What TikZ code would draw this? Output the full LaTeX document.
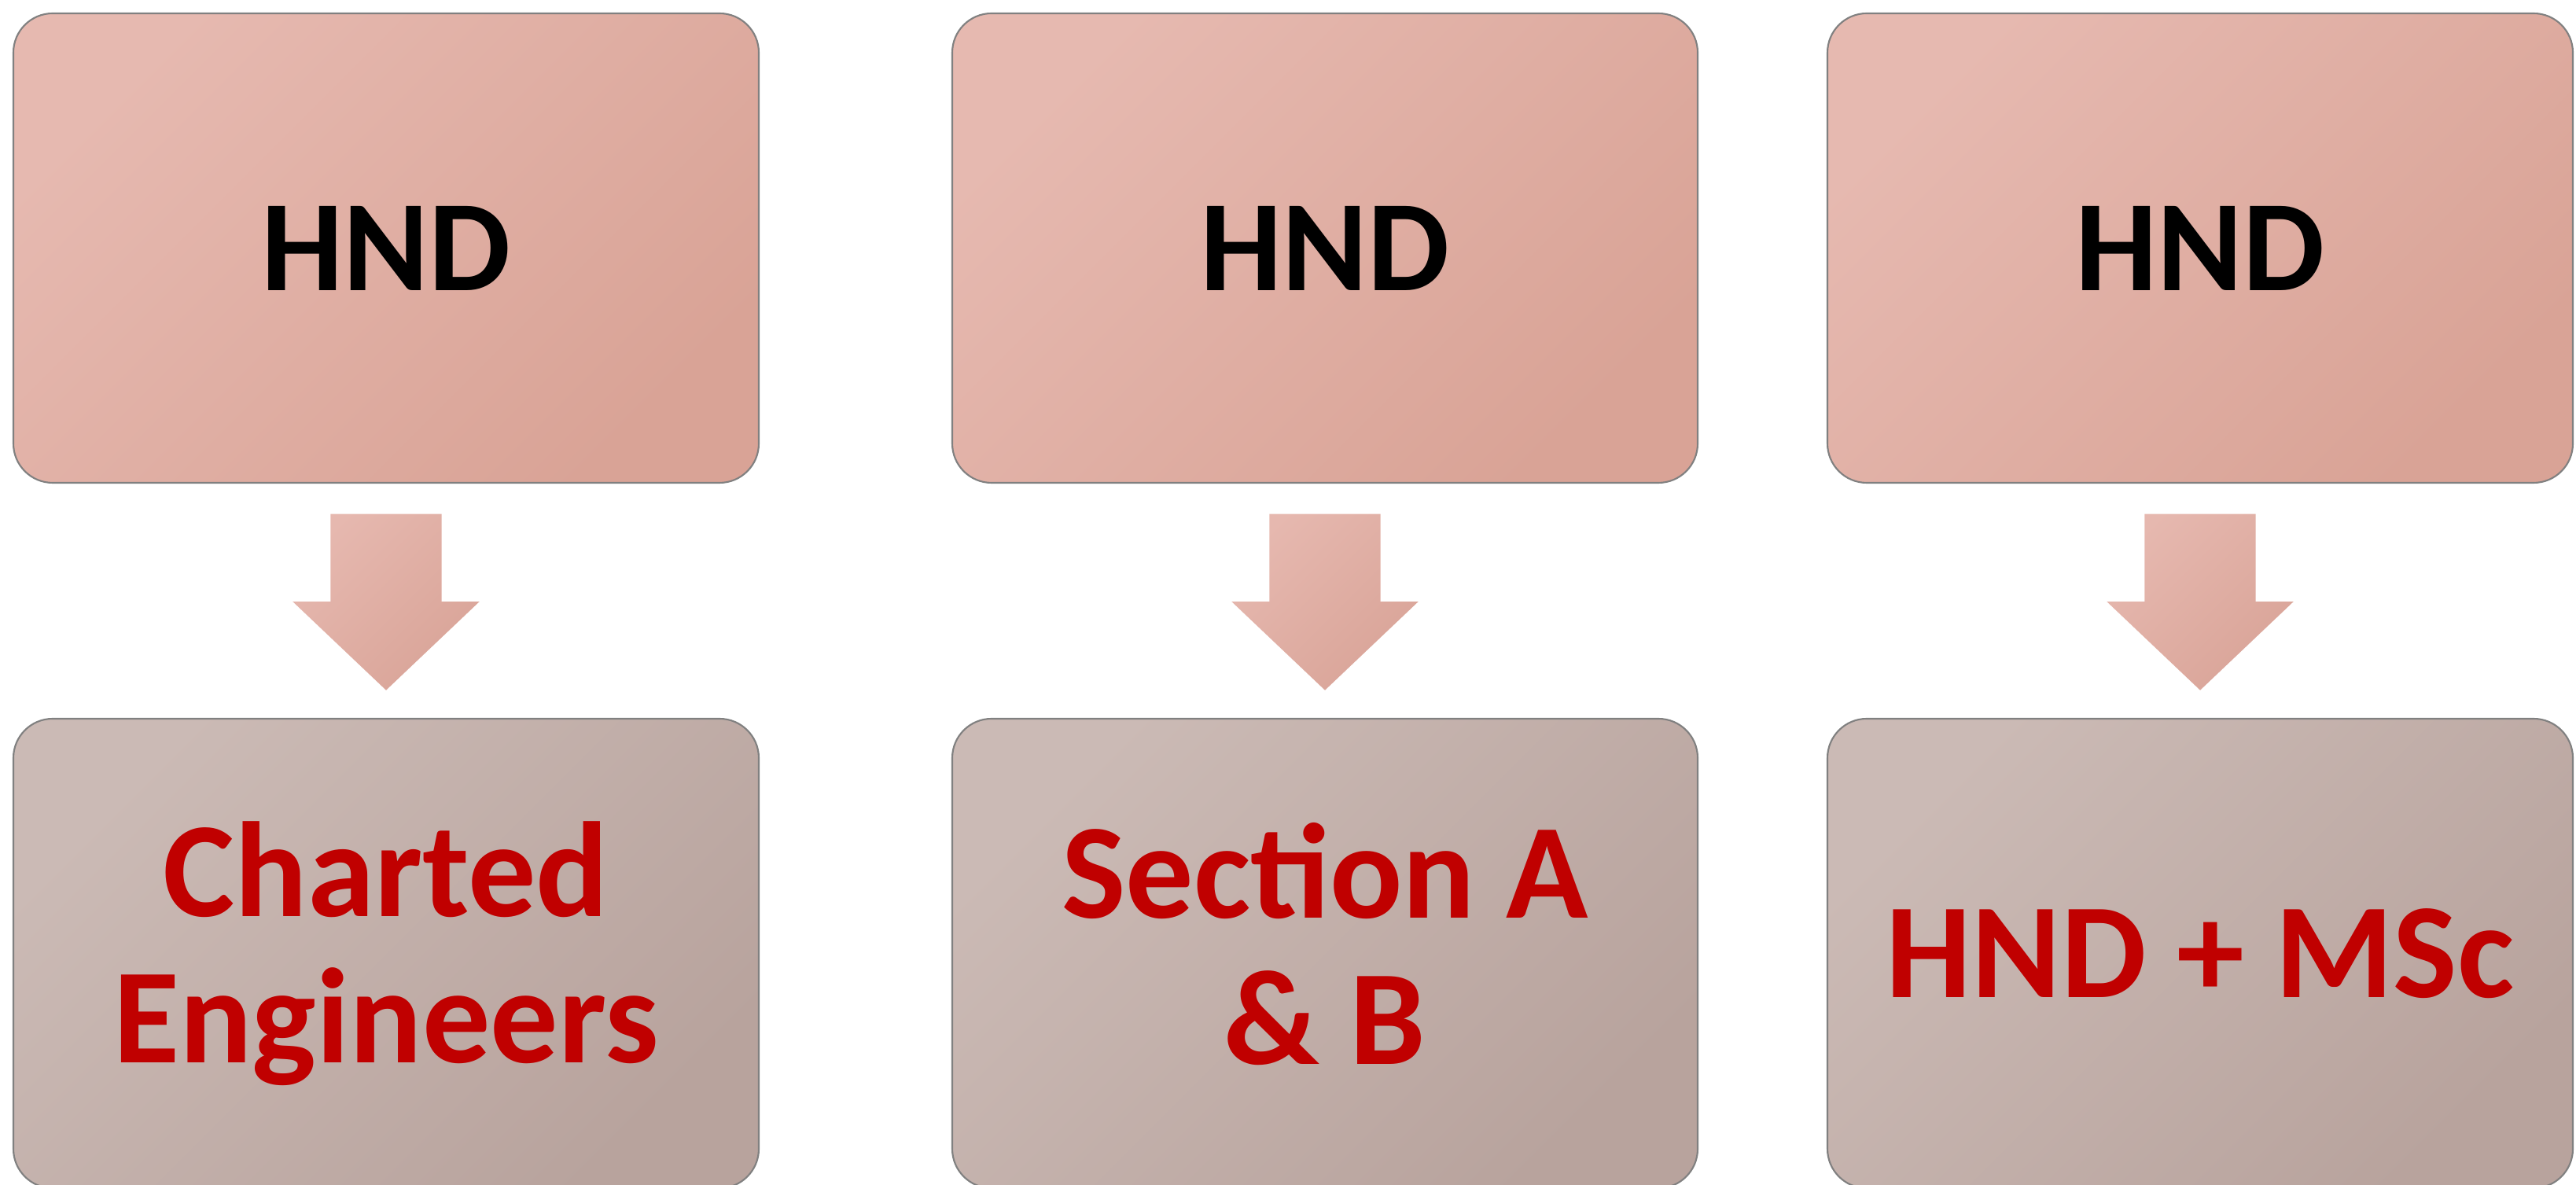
\documentclass[tikz,border=0pt]{standalone}
\usepackage{fontspec}
\setmainfont{Carlito}
\usetikzlibrary{positioning,calc,shapes.arrows}
\definecolor{topA}{HTML}{E6B9B0}
\definecolor{topB}{HTML}{D9A396}
\definecolor{botA}{HTML}{CBBAB5}
\definecolor{botB}{HTML}{B8A39D}
\definecolor{arrA}{HTML}{E6B8AF}
\definecolor{arrB}{HTML}{D9A498}
\definecolor{textred}{HTML}{C00000}
\definecolor{edge}{HTML}{808080}
\tikzset{stage/.style={draw=edge,line width=0.6pt,rounded corners=0.5cm,minimum width=9.48cm,minimum height=5.97cm,inner sep=0pt,align=center,font=\bfseries\fontsize{47}{53}\selectfont},}
\tikzset{hnd/.style={stage,top color=topA,bottom color=topB,shading angle=45},}
\tikzset{goal/.style={stage,top color=botA,bottom color=botB,shading angle=45,text=textred,font=\bfseries\fontsize{49}{53}\selectfont},}
\tikzset{downarrow/.style={single arrow,rotate=270,minimum height=2.24cm,minimum width=2.36cm,inner xsep=0.56cm,inner ysep=0.70cm,single arrow head extend=0.48cm,single arrow tip angle=93,top color=arrA,bottom color=arrB,shading angle=45},}

\begin{document}
\begin{tikzpicture}
	\useasboundingbox (0,0) rectangle (32.76,15.07);
	\node[hnd] (top1) at (4.91,11.915) {HND};
	\node[hnd] (top2) at (16.85,11.915) {HND};
	\node[hnd] (top3) at (27.98,11.915) {HND};
	\node[goal] (end1) at (4.91,2.945) {Charted\\Engineers};
	\node[goal] (end2) at (16.85,2.945) {Section A\\\& B\rule[-7pt]{0pt}{0pt}};
	\node[goal] (end3) at (27.98,2.945) {HND + MSc};
	
	\node[downarrow,anchor=tail] (a1) at ($(top1.south)+(0,-0.38)$) {};
	\node[downarrow,anchor=tail] (a2) at ($(top2.south)+(0,-0.38)$) {};
	\node[downarrow,anchor=tail] (a3) at ($(top3.south)+(0,-0.38)$) {};
\end{tikzpicture}
\end{document}
